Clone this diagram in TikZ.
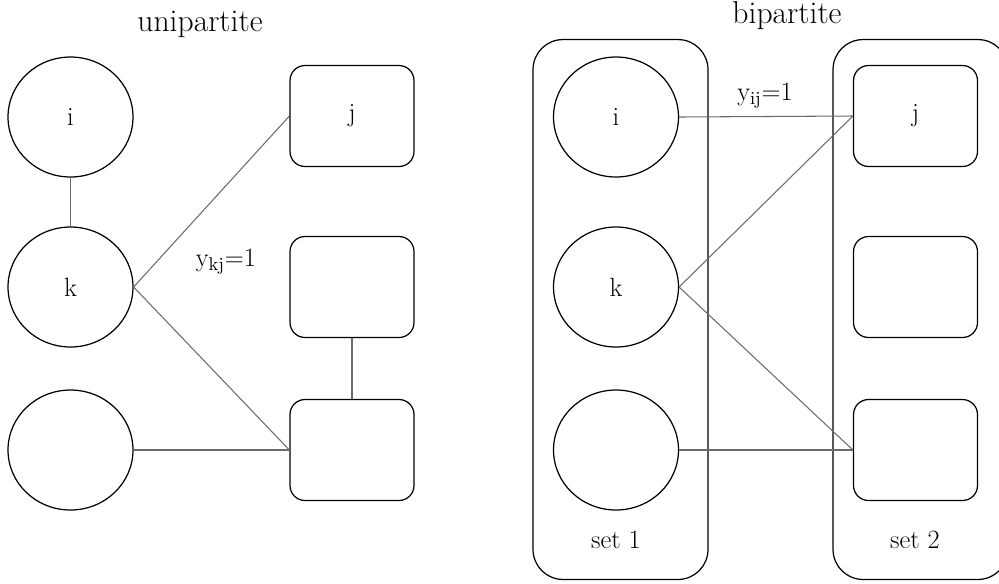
\documentclass[tikz,border=0pt]{standalone}
\usepackage{tikz}
\usetikzlibrary{shapes.geometric}

\begin{document}
\begin{tikzpicture}[x=0.02cm, y=-0.02cm,
    vertex/.style={ellipse, draw, line width=0.7pt, minimum width=2.5cm, minimum height=2.4cm, inner sep=0pt},
    item/.style={rectangle, draw, line width=0.7pt, rounded corners=0.3cm, minimum width=2.48cm, minimum height=2.02cm, inner sep=0pt},
    setbox/.style={rectangle, draw, line width=0.7pt, rounded corners=0.6cm, minimum width=3.5cm, minimum height=10.8cm, inner sep=0pt},
    edge/.style={draw=black!58, line width=0.6pt},
    lbl/.style={font=\fontsize{15}{18}\selectfont, inner sep=0pt},
    title/.style={font=\fontsize{18}{21}\selectfont, inner sep=0pt}]
    \useasboundingbox (0,0) rectangle (999,583);
    \clip (0,0) rectangle (999,583);

    % unipartite
    \node[title] (unititle) at (200,24) {unipartite};

    \node[vertex, lbl] (ui) at (70.5,117) {i};
    \node[vertex, lbl] (uk) at (70.5,287) {k};
    \node[vertex, lbl] (ul) at (70.5,450) {};

    \node[item, lbl] (uj) at (352,116) {j};
    \node[item, lbl] (um) at (352,287) {};
    \node[item, lbl] (ub) at (352,450) {};

    \node[lbl] (ykj) at (226,262) {y\textsubscript{kj}=1};

    \draw[edge] (ui.south) -- (uk.north);
    \draw[edge] (uk.east) -- (uj.west);
    \draw[edge] (uk.east) -- (ub.west);
    \draw[edge] (ul.east) -- (ub.west);
    \draw[edge] (um.south) -- (ub.north);

    % bipartite
    \node[title] (bititle) at (787,16) {bipartite};

    \node[setbox] (set1) at (620.5,309.5) {};
    \node[setbox] (set2) at (920.5,309.5) {};
    \node[lbl] (set1lbl) at (616,540) {set 1};
    \node[lbl] (set2lbl) at (915,540) {set 2};

    \node[vertex, lbl] (bi) at (616,117) {i};
    \node[vertex, lbl] (bk) at (616,287) {k};
    \node[vertex, lbl] (bl) at (616,450) {};

    \node[item, lbl] (bj) at (915.5,116) {j};
    \node[item, lbl] (bm) at (915.5,287) {};
    \node[item, lbl] (bb) at (915.5,450) {};

    \node[lbl] (yij) at (765,96) {y\textsubscript{ij}=1};

    \draw[edge] (bi.east) -- (bj.west);
    \draw[edge] (bk.east) -- (bj.west);
    \draw[edge] (bk.east) -- (bb.west);
    \draw[edge] (bl.east) -- (bb.west);
\end{tikzpicture}
\end{document}
